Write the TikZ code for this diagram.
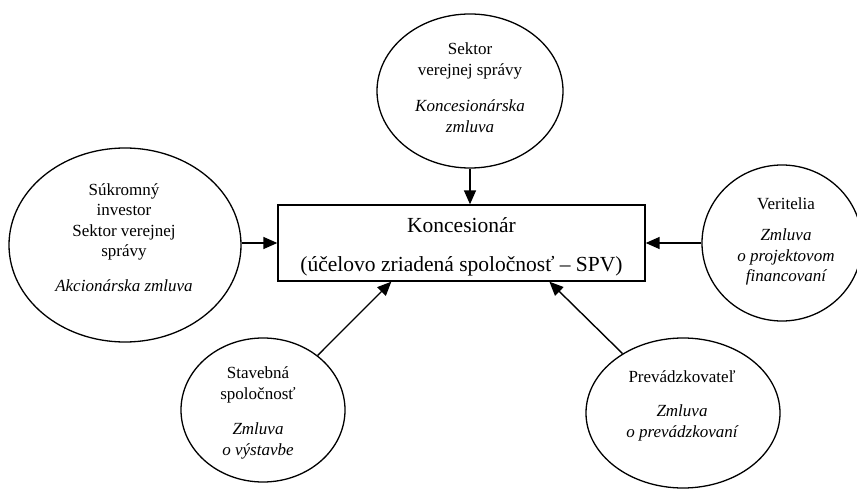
\documentclass[tikz,border=0pt]{standalone}
\usepackage{fontspec}
\setmainfont{Liberation Serif}
\usetikzlibrary{shapes.geometric,arrows.meta}
\tikzset{
  party/.style={draw, ellipse, line width=1.3pt, inner sep=0pt},
  lbl/.style={align=center, font=\fontsize{17}{20.5}\selectfont, inner sep=0pt},
  mainbox/.style={draw, line width=1.3pt, inner sep=0pt},
  boxtxt/.style={font=\fontsize{21.5}{25}\selectfont, inner sep=0pt},
  conn/.style={line width=1.4pt, -{Triangle[length=14pt,width=12pt]}}
}
\begin{document}
\begin{tikzpicture}[x=1pt,y=-1pt]
\useasboundingbox (0,0) rectangle (857,489);
% main box
\node[mainbox, minimum width=367pt, minimum height=76pt] (box) at (461.5,243) {};
\node[boxtxt] (t1) at (461.5,225) {Koncesionár};
\node[boxtxt] (t2) at (461.5,266) {(účelovo zriadená spoločnosť – SPV)};
% ellipses
\node[party, minimum width=186pt, minimum height=154pt] (top) at (470,91) {};
\node[party, minimum width=232pt, minimum height=194pt] (left) at (125,245) {};
\node[party, minimum width=160pt, minimum height=156pt] (right) at (782,243) {};
\node[party, minimum width=164pt, minimum height=144pt] (stav) at (263,410) {};
\node[party, minimum width=194pt, minimum height=150pt] (prev) at (683,413) {};
% labels
\node[lbl] (topA) at (470,61) {Sektor\\verejnej správy};
\node[lbl] (topB) at (470,116) {\itshape Koncesionárska\\\itshape zmluva};
\node[lbl] (leftA) at (124,222) {Súkromný\\investor\\Sektor verejnej\\správy};
\node[lbl] (leftB) at (124,286) {\itshape Akcionárska zmluva};
\node[lbl] (rightA) at (786,204) {Veritelia};
\node[lbl] (rightB) at (786,257) {\itshape Zmluva\\\itshape o projektovom\\\itshape financovaní};
\node[lbl] (stavA) at (258,385) {Stavebná\\spoločnosť};
\node[lbl] (stavB) at (258,441) {\itshape Zmluva\\\itshape o výstavbe};
\node[lbl] (prevA) at (682,377) {Prevádzkovateľ};
\node[lbl] (prevB) at (682,423) {\itshape Zmluva\\\itshape o prevádzkovaní};
% connector end points on box bottom
\coordinate (b1) at ([xshift=114pt]box.south west);
\coordinate (b2) at ([xshift=272pt]box.south west);
% connectors
\draw[conn] (top.south) -- (top.south |- box.north);
\draw[conn] (left.east |- box.west) -- (box.west);
\draw[conn] (right.west |- box.east) -- (box.east);
\draw[conn] (stav) -- (b1);
\draw[conn] (prev) -- (b2);
\end{tikzpicture}
\end{document}
